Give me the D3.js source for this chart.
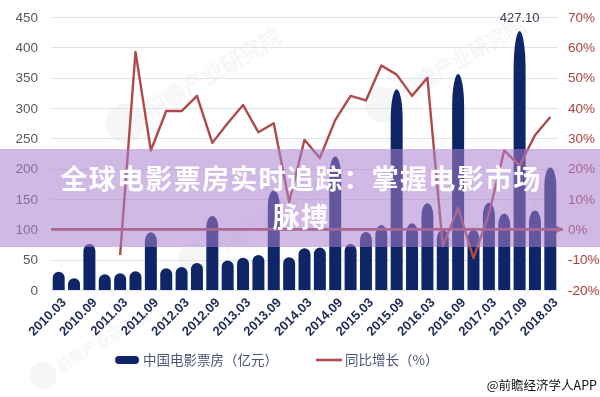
<!DOCTYPE html>
<html>
<head>
<meta charset="utf-8">
<script src="https://cdn.jsdelivr.net/npm/d3@7"></script>
<style>
  body { margin: 0; background: #fff; }
  svg { display: block; font-family: "Liberation Sans", Arial, "Noto Sans CJK SC", sans-serif; }
</style>
</head>
<body>
<svg width="600" height="397"></svg>
<script>
// quarters, every other one gets a label
let quarters = [
  "2010.03","2010.06","2010.09","2010.12",
  "2011.03","2011.06","2011.09","2011.12",
  "2012.03","2012.06","2012.09","2012.12",
  "2013.03","2013.06","2013.09","2013.12",
  "2014.03","2014.06","2014.09","2014.12",
  "2015.03","2015.06","2015.09","2015.12",
  "2016.03","2016.06","2016.09","2016.12",
  "2017.03","2017.06","2017.09","2017.12",
  "2018.03"
];
// 中国电影票房（亿元）
let boxOffice = [
  30, 19.5, 76, 26,
  27.5, 31, 95, 36,
  38, 44.5, 122, 48.5,
  53, 57.5, 164, 54,
  69, 70, 220, 76,
  96, 107, 331, 110,
  143, 99, 356, 99,
  144, 126, 427.1, 131,
  202
];
// 同比增长（%），starts at 2011.03
let growth = [
  null, null, null, null,
  -8.5, 58.5, 26, 39,
  39, 44, 28.5, 35,
  41, 32, 35, 9,
  29.5, 23.5, 36, 44,
  42.5, 54, 51, 44,
  50, -5.5, 7, -9.5,
  5, 26, 21, 31,
  37
];
let leftTicks = [0, 50, 100, 150, 200, 250, 300, 350, 400, 450];
let rightTicks = [-20, -10, 0, 10, 20, 30, 40, 50, 60, 70];
let title = ["全球电影票房实时追踪：掌握电影市场", "脉搏"];

let svg = d3.select("svg");
let navy = "#0e2667", red = "#b04a4a";

let x = d3.scaleBand().domain(quarters).range([51, 558]).paddingInner(0.22).paddingOuter(0.11);
let y = d3.scaleLinear().domain([0, 450]).range([290, 17]);
let y2 = d3.scaleLinear().domain([-20, 70]).range([290, 17]);

// watermarks
let wm = svg.append("g").attr("fill", "#a0a8b0").attr("opacity", 0.11)
  .style("font-family", "Noto Sans CJK SC").style("font-weight", "bold");
[[150, 118, 22], [405, 100, 20], [215, 255, 18], [440, 262, 18], [60, 372, 15]].forEach(d => {
  let g = wm.append("g").attr("transform", `translate(${d[0]},${d[1]}) rotate(-30)`);
  g.append("circle").attr("cx", -d[2] * 1.1).attr("cy", -d[2] * 0.35).attr("r", d[2] * 0.9);
  g.append("text").attr("font-size", d[2]).text("前瞻产业研究院");
});

// grid
svg.append("g").selectAll("line").data(leftTicks).join("line")
  .attr("x1", 51).attr("x2", 558)
  .attr("y1", d => Math.round(y(d)) + 0.5).attr("y2", d => Math.round(y(d)) + 0.5)
  .attr("stroke", "#dfe4ea");

// left axis
let yAxis = svg.append("g").attr("transform", "translate(40,0)")
  .call(d3.axisLeft(y).tickValues(leftTicks).tickSize(0).tickPadding(2));
yAxis.select(".domain").remove();
yAxis.selectAll("text").attr("fill", "#595959").attr("font-size", 13.5);

// right axis
let y2Axis = svg.append("g").attr("transform", "translate(566,0)")
  .call(d3.axisRight(y2).tickValues(rightTicks).tickSize(0).tickPadding(2).tickFormat(d => d + "%"));
y2Axis.select(".domain").remove();
y2Axis.selectAll("text").attr("fill", "#a8423d").attr("font-size", 13.5);

// bars with bullet tops
let bw = x.bandwidth();
function barPath(d, i) {
  let x0 = x(quarters[i]), h = y(0) - y(d), rx = bw / 2;
  let ry = Math.min(h, Math.max(rx, h * 0.15));
  return `M${x0},${y(0)} V${y(d) + ry} A${rx},${ry} 0 0 1 ${x0 + bw},${y(d) + ry} V${y(0)} Z`;
}
svg.append("g").selectAll("path").data(boxOffice).join("path")
  .attr("d", barPath).attr("fill", navy);

// peak label
let maxI = boxOffice.indexOf(d3.max(boxOffice));
svg.append("text")
  .attr("x", x(quarters[maxI]) + bw / 2).attr("y", 22)
  .attr("text-anchor", "middle").attr("font-size", 13).attr("fill", "#3a3f4a")
  .text(d3.format(".2f")(boxOffice[maxI]));

// 0% line with arrow
svg.append("defs").append("marker").attr("id", "arrow")
  .attr("viewBox", "0 0 10 10").attr("refX", 9).attr("refY", 5)
  .attr("markerWidth", 3).attr("markerHeight", 3).attr("orient", "auto")
  .append("path").attr("d", "M0,0 L10,5 L0,10 Z").attr("fill", red);
svg.append("line")
  .attr("x1", 51).attr("x2", 563).attr("y1", y2(0)).attr("y2", y2(0))
  .attr("stroke", red).attr("stroke-width", 2.6).attr("marker-end", "url(#arrow)");

// growth line
let line = d3.line()
  .defined(d => d != null)
  .x((d, i) => x(quarters[i]) + bw / 2)
  .y(d => y2(d));
svg.append("path").datum(growth)
  .attr("d", line).attr("fill", "none")
  .attr("stroke", red).attr("stroke-width", 2.4).attr("stroke-linejoin", "round");

// x labels
svg.append("g").selectAll("text").data(quarters.filter((d, i) => i % 2 === 0)).join("text")
  .attr("transform", d => `translate(${x(d) + bw / 2 + 5},${300}) rotate(-45)`)
  .attr("text-anchor", "end").attr("dy", "0.35em")
  .attr("font-size", 13).attr("font-weight", "bold").attr("fill", "#1f2b55")
  .text(d => d);

// legend
let lg = svg.append("g").attr("font-size", 13.5).attr("fill", "#4a5478")
  .style("font-family", "Noto Sans CJK SC");
lg.append("rect").attr("x", 115).attr("y", 356).attr("width", 24).attr("height", 8).attr("rx", 4).attr("fill", navy);
lg.append("text").attr("x", 143).attr("y", 365).text("中国电影票房（亿元）");
lg.append("line").attr("x1", 316).attr("x2", 342).attr("y1", 360).attr("y2", 360)
  .attr("stroke", red).attr("stroke-width", 2.6);
lg.append("text").attr("x", 345).attr("y", 365).text("同比增长（%）");

svg.append("text").attr("x", 597).attr("y", 390).attr("text-anchor", "end")
  .attr("font-size", 12.5).attr("fill", "#111").style("font-family", "Noto Sans CJK SC")
  .text("@前瞻经济学人APP");

// banner on top
svg.append("rect").attr("x", 0).attr("y", 149).attr("width", 600).attr("height", 98)
  .attr("fill", "#a97fd0").attr("opacity", 0.55);
svg.append("g").selectAll("text").data(title).join("text")
  .attr("x", 301).attr("y", (d, i) => 189 + i * 38)
  .attr("text-anchor", "middle").attr("font-size", 27).attr("font-weight", "bold")
  .attr("letter-spacing", 1.3)
  .attr("fill", "#fff").style("font-family", "Noto Sans CJK SC")
  .text(d => d);
</script>
</body>
</html>
